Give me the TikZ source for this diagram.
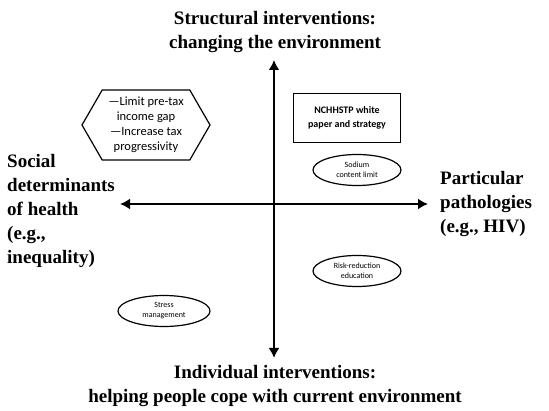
\documentclass[tikz,border=0pt]{standalone}
\usepackage{fontspec}
\setmainfont{Liberation Serif}
\newfontfamily\calibri{Carlito}
\usetikzlibrary{shapes.geometric, shapes.symbols, arrows.meta, positioning}

\tikzset{
  axis/.style={line width=2.5pt, {Latex[length=10pt,width=11pt]}-{Latex[length=10pt,width=11pt]}},
  heading/.style={font=\bfseries\fontsize{19}{24}\selectfont, align=center},
  sidetext/.style={font=\bfseries\fontsize{19}{24}\selectfont, align=left, inner sep=0pt},
  option/.style={ellipse, draw, line width=1.2pt, font=\calibri\fontsize{8}{10}\selectfont,
    align=center, minimum width=88pt, minimum height=31pt, inner sep=0pt}
}

\begin{document}
\begin{tikzpicture}[x=1pt, y=-1pt]
\useasboundingbox (0,0) rectangle (549,411);
% axes
\coordinate (west) at (120,204);
\coordinate (east) at (428,204);
\coordinate (north) at (274,60);
\coordinate (south) at (274,358);
\draw[axis] (west) -- (east);
\draw[axis] (south) -- (north);

% headings
\node[heading] (structural) at (275,32) {Structural interventions:\\changing the environment};
\node[heading] (individual) at (275,386) {Individual interventions:\\helping people cope with current environment};
\node[sidetext, anchor=west] (social) at (7,211) {Social\\determinants\\of health\\(e.g.,\\inequality)};
\node[sidetext, anchor=west] (particular) at (440,204) {Particular\\pathologies\\(e.g., HIV)};

% quadrant items
\node[signal, signal to=west and east, signal pointer angle=120, draw, line width=1.2pt,
  minimum width=128pt, minimum height=70pt, inner sep=0pt, align=center,
  font=\calibri\fontsize{12.5}{15}\selectfont] (taxes) at (146,125)
  {—Limit pre-tax\\income gap\\—Increase tax\\progressivity};
\node[draw, line width=1.2pt, minimum width=107pt, minimum height=49pt, align=center,
  font=\calibri\bfseries\fontsize{10}{14}\selectfont] (nchhstp) at (347,118)
  {NCHHSTP white\\paper and strategy};
\node[option] (sodium) at (357,170) {Sodium\\content limit};
\node[option] (risk) at (357,271) {Risk-reduction\\education};
\node[option, minimum width=92pt] (stress) at (164,311) {Stress\\management};
\end{tikzpicture}
\end{document}
